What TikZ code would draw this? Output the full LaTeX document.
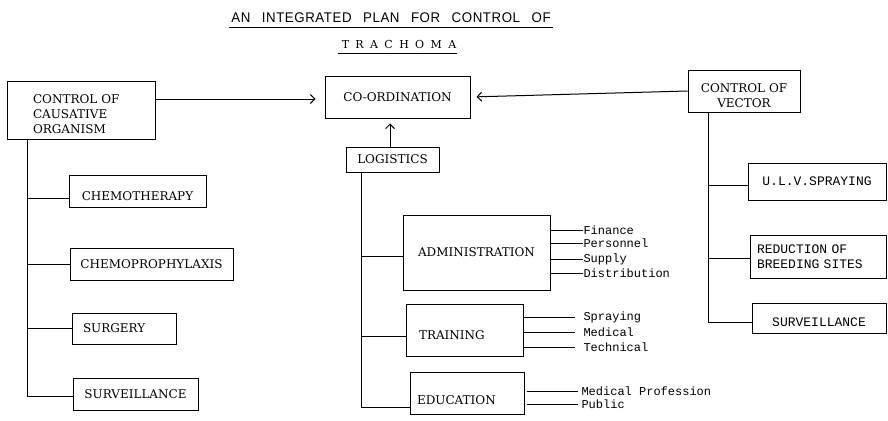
\documentclass[tikz,border=0pt]{standalone}
\usepackage{fontspec}
\setmainfont{DejaVu Serif}
\newfontfamily\monof{Liberation Mono}
\newfontfamily\titlef[FakeStretch=0.95,WordSpace=2.7,LetterSpace=4]{Liberation Sans}
\newfontfamily\trachf[LetterSpace=58]{DejaVu Serif}
\usetikzlibrary{arrows.meta}
\newcommand\lowered[2]{\raisebox{-#1}[\height][\depth]{#2}}
\begin{document}
\begin{tikzpicture}[x=1pt,y=-1pt,line width=1pt,
  bx/.style={draw,rectangle,inner sep=0pt,font=\fontsize{12}{15}\selectfont},
  mbx/.style={bx,font=\monof\fontsize{13}{15}\selectfont},
  lbl/.style={anchor=west,inner sep=0pt,font=\monof\fontsize{12}{14}\selectfont},
  arr/.style={-{Straight Barb[length=4.5pt,width=9pt]}}]
\useasboundingbox (0,0) rectangle (888,420);

% titles
\node[font=\titlef\fontsize{14}{16}\selectfont,inner sep=0pt] (t1) at (391,18) {AN INTEGRATED PLAN FOR CONTROL OF};
\draw ([shift={(-2,4)}]t1.south west) -- ([shift={(2,4)}]t1.south east);
\node[font=\trachf\fontsize{11}{13}\selectfont,inner sep=0pt] (t2) at (399,44) {TRACHOMA};
\draw ([shift={(-3,5)}]t2.south west) -- ([shift={(0,5)}]t2.south east);

% top row
\node[bx,minimum width=148,minimum height=58,text width=96,inner xsep=26,align=left] (caus) at (81,110)
  {\lowered{5pt}{\begin{tabular}{@{}l@{}}CONTROL OF\\CAUSATIVE\\ORGANISM\end{tabular}}};
\node[bx,minimum width=145,minimum height=42] (coord) at (397.5,97) {CO-ORDINATION};
\node[bx,minimum width=112,minimum height=42] (vec) at (744,91)
  {\lowered{6pt}{\begin{tabular}{@{}c@{}}CONTROL OF\\VECTOR\end{tabular}}};
\node[bx,minimum width=93,minimum height=25] (logi) at (392.5,159.5) {LOGISTICS};

% left column
\node[bx,minimum width=137,minimum height=32] (chemo) at (137.5,191) {\lowered{5pt}{CHEMOTHERAPY}};
\node[bx,minimum width=163,minimum height=32] (proph) at (151.5,264) {CHEMOPROPHYLAXIS};
\node[bx,minimum width=104,minimum height=31,text width=82,inner xsep=11,align=left] (surg) at (124,328.5) {SURGERY};
\node[bx,minimum width=125,minimum height=32] (survL) at (135.5,394) {SURVEILLANCE};

% middle column
\node[bx,minimum width=147,minimum height=75] (admin) at (476.5,252.5) {ADMINISTRATION};
\node[bx,minimum width=117,minimum height=52,text width=91,inner xsep=13,align=left] (train) at (464.5,330) {\lowered{5pt}{TRAINING}};
\node[bx,minimum width=114,minimum height=42,text width=100,inner xsep=7,align=left] (edu) at (467,393) {\lowered{7pt}{EDUCATION}};

% right column
\node[mbx,minimum width=138,minimum height=37] (ulv) at (817,181.5) {U.L.V.SPRAYING};
\node[mbx,minimum width=136,minimum height=43,text width=122,inner xsep=7,align=left] (red) at (818,256.5) {REDUCTION OF\\BREEDING SITES};
\node[mbx,minimum width=134,minimum height=30] (survR) at (819,318) {\lowered{4pt}{SURVEILLANCE}};

% sub-labels
\node[lbl] (fin) at (583,230) {Finance};
\node[lbl] (pers) at (583,243) {Personnel};
\node[lbl] (sup) at (583,259) {Supply};
\node[lbl] (dist) at (583,273) {Distribution};
\node[lbl] (spr) at (583,317) {Spraying};
\node[lbl] (med) at (583,332) {Medical};
\node[lbl] (tech) at (583,347) {Technical};
\node[lbl] (mp) at (581,391) {Medical Profession};
\node[lbl] (pub) at (581,404) {Public};

% arrows to co-ordination
\draw[arr,shorten >=9pt] ([yshift=-2pt]caus.east |- coord.west) -- ([yshift=-2pt]coord.west);
\draw[arr,shorten >=6pt] (vec.west) -- (coord.east);
\draw[arr,shorten >=5pt] ([xshift=-2.5pt]logi.north) -- ([xshift=-2.5pt]logi.north |- coord.south);

% left tree
\coordinate (lt) at ([xshift=21pt]caus.south west);
\draw (lt) |- ([yshift=-2pt]survL.west);
\draw (lt |- 0,198) -- ([yshift=-7pt]chemo.west);
\draw (lt |- proph.west) -- (proph.west);
\draw (lt |- surg.west) -- (surg.west);

% middle tree
\coordinate (mt) at ([xshift=16pt]logi.south west);
\draw (mt) |- ([yshift=-14pt]edu.west);
\draw (mt |- 0,256) -- ([yshift=-3.5pt]admin.west);
\draw (mt |- 0,336) -- ([yshift=-6pt]train.west);

% right tree
\coordinate (rt) at ([xshift=21pt]vec.south west);
\draw (rt) |- ([yshift=-4pt]survR.west);
\draw (rt |- 0,185) -- ([yshift=-3.5pt]ulv.west);
\draw (rt |- 0,258) -- ([yshift=-1.5pt]red.west);

% sub-label connectors
\foreach \n in {fin,pers,sup,dist} \draw (admin.east |- \n.west) -- (\n.west);
\foreach \n in {spr,med,tech} \draw (train.east |- \n.west) -- ([xshift=-8pt]\n.west);
\foreach \n in {mp,pub} \draw[shorten <=2pt] (edu.east |- \n.west) -- ([xshift=-3pt]\n.west);
\end{tikzpicture}
\end{document}
